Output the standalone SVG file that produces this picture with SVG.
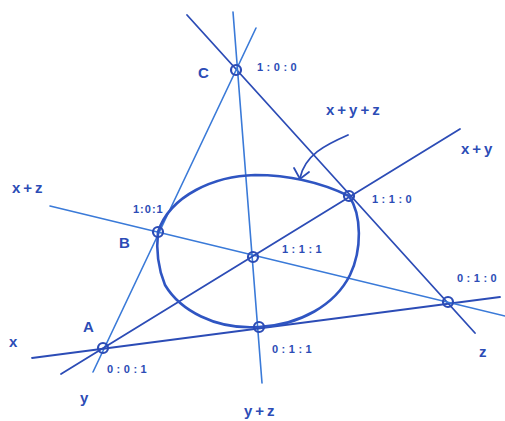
<svg xmlns="http://www.w3.org/2000/svg" width="505" height="421" viewBox="0 0 505 421">
<style>
.dk{stroke:#2c4cb6;stroke-width:1.8;fill:none;stroke-linecap:round}
.lt{stroke:#3a7ad8;stroke-width:1.6;fill:none;stroke-linecap:round}
.pt{stroke:#2c4cb6;stroke-width:2.2;fill:none}
.conic{stroke:#2f55c2;stroke-width:2.6;fill:none;stroke-linecap:round}
text{font-family:"Liberation Sans",Arial,sans-serif;fill:#2c4cb6;font-weight:bold}
.big{font-size:15px}
.lab{font-size:15px;letter-spacing:3px}
.sm{font-size:11px;letter-spacing:3.5px}
.tight{letter-spacing:1px}
</style>
<rect width="505" height="421" fill="#ffffff"/>
<g id="connectors">
<line class="dk" x1="187" y1="15" x2="475" y2="333"/>
<line class="lt" x1="233" y1="12" x2="262" y2="383"/>
<line class="lt" x1="256" y1="28" x2="93" y2="372"/>
<line class="dk" x1="32" y1="358" x2="500" y2="297"/>
<line class="lt" x1="50" y1="206" x2="505" y2="316"/>
<line class="dk" x1="61" y1="374" x2="460" y2="129"/>
<path class="dk" d="M348,135 C325,145 305,155 300,178"/>
<path class="dk" d="M294,168 L300,179 L309,172"/>
</g>
<g id="conic">
<path class="conic" d="M158,232 C170,195 215,176 255,175 C290,175 320,182 349,196 C362,215 362,250 350,275 C335,305 300,325 259,327 C215,330 180,310 165,285 C158,268 156,250 158,232 Z"/>
</g>
<g id="C"><circle class="pt" cx="236" cy="70" r="5"/><text class="big" x="198" y="78">C</text><text class="sm" x="257" y="71">1:0:0</text></g>
<g id="B"><circle class="pt" cx="158" cy="232" r="5"/><text class="big" x="119" y="248">B</text><text class="sm tight" x="133" y="213">1:0:1</text></g>
<g id="A"><circle class="pt" cx="103" cy="348" r="5"/><text class="big" x="83" y="332">A</text><text class="sm" x="107" y="373">0:0:1</text></g>
<g id="P111"><circle class="pt" cx="253" cy="257" r="5"/><text class="sm" x="282" y="253">1:1:1</text></g>
<g id="P110"><circle class="pt" cx="349" cy="196" r="5"/><text class="sm" x="372" y="203">1:1:0</text></g>
<g id="P011"><circle class="pt" cx="259" cy="327" r="5"/><text class="sm" x="272" y="353">0:1:1</text></g>
<g id="P010"><circle class="pt" cx="448" cy="302" r="5"/><text class="sm" x="457" y="282">0:1:0</text></g>
<g id="labels">
<text class="lab" x="326" y="115">x+y+z</text>
<text class="lab" x="461" y="154">x+y</text>
<text class="lab" x="12" y="193">x+z</text>
<text class="big" x="9" y="347">x</text>
<text class="big" x="80" y="403">y</text>
<text class="big" x="479" y="357">z</text>
<text class="lab" x="244" y="416">y+z</text>
</g>
</svg>
